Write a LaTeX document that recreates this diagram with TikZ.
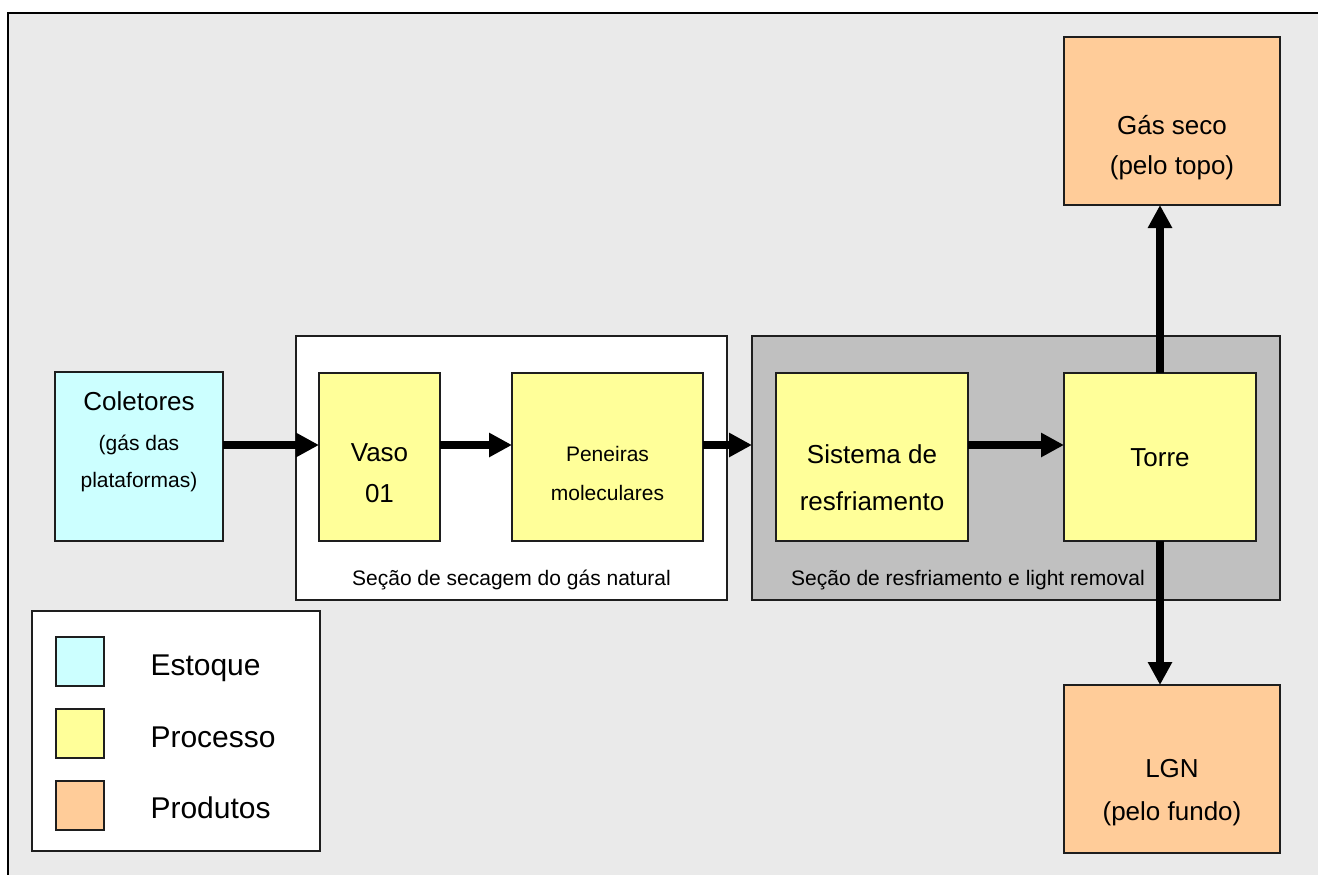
\documentclass[tikz,border=0pt]{standalone}
\usepackage{fontspec}
\setmainfont{Liberation Sans}
\usetikzlibrary{arrows.meta}
\definecolor{bg}{RGB}{234,234,234}
\definecolor{stock}{RGB}{204,255,255}
\definecolor{proc}{RGB}{255,255,153}
\definecolor{prod}{RGB}{255,204,153}
\definecolor{sect}{RGB}{192,192,192}
\definecolor{edge}{RGB}{30,30,30}
\begin{document}
\begin{tikzpicture}[x=1pt,y=-1pt,
  box/.style={draw=edge, line width=1.6pt, rectangle, inner sep=0pt, outer sep=0pt, anchor=north west},
  flow/.style={line width=8pt, -{Triangle[length=23pt,width=23pt]}},
  big/.style={anchor=base, font=\fontsize{26}{30}\selectfont},
  small/.style={anchor=base, font=\fontsize{21}{25}\selectfont},
  leg/.style={anchor=base west, font=\fontsize{30}{34}\selectfont}]
\useasboundingbox (0,0) rectangle (1318,875);
\clip (0,0) rectangle (1318,875);
\fill[white] (0,0) rectangle (1318,875);
\draw[line width=2.2pt, fill=bg] (8,13) rectangle (1340,900);
% sections
\node[box, fill=white, minimum width=431pt, minimum height=264pt] (secA) at (296,336) {};
\node[box, fill=sect, minimum width=528pt, minimum height=264pt] (secB) at (752,336) {};
% boxes
\node[box, fill=stock, minimum width=168pt, minimum height=169pt] (col) at (55,372) {};
\node[box, fill=proc, minimum width=121pt, minimum height=168pt] (vaso) at (319,373) {};
\node[box, fill=proc, minimum width=191pt, minimum height=168pt] (pen) at (512,373) {};
\node[box, fill=proc, minimum width=192pt, minimum height=168pt] (sis) at (776,373) {};
\node[box, fill=proc, minimum width=192pt, minimum height=168pt] (torre) at (1064,373) {};
\node[box, fill=prod, minimum width=216pt, minimum height=168pt] (gas) at (1064,37) {};
\node[box, fill=prod, minimum width=216pt, minimum height=168pt] (lgn) at (1064,685) {};
% legend
\node[box, fill=white, line width=1.4pt, minimum width=288pt, minimum height=240pt] (legend) at (32,611) {};
\node[box, fill=stock, minimum width=48pt, minimum height=49pt] (lg1) at (56,637) {};
\node[box, fill=proc, minimum width=48pt, minimum height=49pt] (lg2) at (56,709) {};
\node[box, fill=prod, minimum width=48pt, minimum height=49pt] (lg3) at (56,781) {};
\node[leg] (t1) at (147,675) {Estoque};
\node[leg] (t2) at (147,747) {Processo};
\node[leg] (t3) at (147,818) {Produtos};
% texts
\node[big] (c1) at (139,410) {Coletores};
\node[small] (c2) at (139,450) {(gás das};
\node[small] (c3) at (139,487) {plataformas)};
\node[big] (v1) at (379.5,461) {Vaso};
\node[big] (v2) at (379.5,502) {01};
\node[small] (p1) at (607.5,461) {Peneiras};
\node[small] (p2) at (607.5,500) {moleculares};
\node[big] (s1) at (872,463) {Sistema de};
\node[big] (s2) at (872,510) {resfriamento};
\node[big] (tt) at (1160,466) {Torre};
\node[big] (g1) at (1172,134) {Gás seco};
\node[big] (g2) at (1172,174) {(pelo topo)};
\node[big] (l1) at (1172,777) {LGN};
\node[big] (l2) at (1172,820) {(pelo fundo)};
\node[small] (sa) at (511.5,585) {Seção de secagem do gás natural};
\node[small] (sb) at (968,585) {Seção de resfriamento e light removal};
% flows
\draw[flow] (col.east |- 0,445) -- (vaso.west |- 0,445);
\draw[flow] (vaso.east |- 0,445) -- (pen.west |- 0,445);
\draw[flow] (pen.east |- 0,445) -- (secB.west |- 0,445);
\draw[flow] (sis.east |- 0,445) -- (torre.west |- 0,445);
\draw[flow] (torre.north) -- (gas.south -| torre.north);
\draw[flow] (torre.south) -- (lgn.north -| torre.south);
\end{tikzpicture}
\end{document}
